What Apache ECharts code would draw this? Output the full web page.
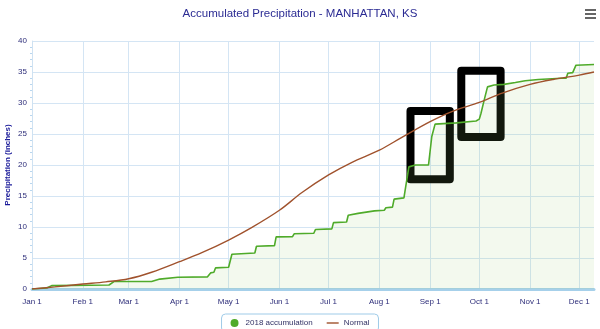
<!DOCTYPE html>
<html>
<head>
<meta charset="utf-8">
<script src="https://cdn.jsdelivr.net/npm/echarts@6/dist/echarts.min.js"></script>
<style>
html,body{margin:0;padding:0;background:#fff;}
#chart{width:600px;height:329px;}
</style>
</head>
<body>
<div id="chart"></div>
<script>
// ---- Data ----
const monthNames = ['Jan','Feb','Mar','Apr','May','Jun','Jul','Aug','Sep','Oct','Nov','Dec'];
const yTicks = [0, 5, 10, 15, 20, 25, 30, 35, 40];

const accumDates = ['01-01','01-10','01-13','02-17','02-20','03-15','03-20','03-31','04-18','04-20','04-22','04-23','05-01','05-03','05-17','05-18','05-29','05-30','06-09','06-10','06-22','06-23','07-03','07-04','07-12','07-13','07-19','07-29','08-04','08-05','08-09','08-10','08-16','08-19','08-23','08-31','09-02','09-04','09-17','09-29','10-01','10-02','10-04','10-06','10-10','10-16','10-23','10-29','11-06','11-20','11-23','11-24','11-27','11-29','12-10'];
const accumValues = [0,0.15,0.55,0.65,1.2,1.2,1.6,1.9,1.95,2.6,2.7,3.4,3.5,5.6,5.8,6.9,7.0,8.4,8.45,8.9,9.0,9.6,9.7,10.7,10.8,11.9,12.2,12.6,12.7,13.1,13.2,14.5,14.7,19.7,20.0,20.0,24.6,26.6,26.8,27.1,27.4,28.3,30.5,32.6,32.9,33.0,33.3,33.6,33.8,34.0,34.0,34.8,34.9,36.1,36.2];

const normalDates = ['01-01','01-15','02-01','02-15','03-01','03-15','04-01','04-15','05-01','05-15','06-01','06-15','07-01','07-15','08-01','08-15','09-01','09-15','10-01','10-15','11-01','11-15','12-01','12-10'];
const normalValues = [0,0.35,0.8,1.15,1.65,2.7,4.4,5.9,7.9,9.9,12.7,15.6,18.4,20.4,22.4,24.5,27.0,28.7,30.1,31.6,33.0,33.8,34.5,35.0];

// highlighted boxes (data coordinates)
const boxStarts = ['08-20','09-20'];
const boxEnds = ['09-13','10-14'];
const boxTops = [28.7, 35.2];
const boxBottoms = [17.7, 24.5];

// ---- Build daily categories Jan 1 .. Dec 10 ----
const categories = [];
for (let t = Date.UTC(2018,0,1); t <= Date.UTC(2018,11,10); t += 86400000) {
  const d = new Date(t);
  const mm = String(d.getUTCMonth()+1).padStart(2,'0');
  const dd = String(d.getUTCDate()).padStart(2,'0');
  categories.push(mm + '-' + dd);
}
const isMonthStart = (idx, val) => categories[idx].slice(3) === '01';

const accumData = accumDates.map((d,i) => [d, accumValues[i]]);
const normalData = normalDates.map((d,i) => [d, normalValues[i]]);
const boxData = boxStarts.map((s,i) => [{xAxis: s, yAxis: boxTops[i]}, {xAxis: boxEnds[i], yAxis: boxBottoms[i]}]);

const FONT = 'Liberation Sans';
const chart = echarts.init(document.getElementById('chart'), null, {renderer:'canvas'});
chart.setOption({
  animation: false,
  textStyle: {fontFamily: FONT},
  title: {
    text: 'Accumulated Precipitation - MANHATTAN, KS',
    left: 'center', top: 3,
    textStyle: {fontFamily: FONT, fontSize: 11.5, fontWeight: 'normal', color: '#2b2b93'}
  },
  grid: {left: 32, right: 6, top: 41, bottom: 40, containLabel: false, outerBoundsMode: 'none'},
  legend: {
    left: 'center', top: 314,
    padding: [5, 9, 5, 9],
    borderColor: '#9fcbe8', borderWidth: 1, borderRadius: 4,
    itemWidth: 12, itemHeight: 8, itemGap: 14,
    textStyle: {fontFamily: FONT, fontSize: 8, color: '#333366'},
    data: [
      {name: '2018 accumulation', icon: 'circle'},
      {name: 'Normal', icon: 'path://M0,0 L0,0 M0,3.3 H12 V4.7 H0 Z M12,8 L12,8'}
    ]
  },
  xAxis: {
    type: 'category',
    data: categories,
    boundaryGap: false,
    axisLine: {show: true, lineStyle: {color: '#a6d0ea', width: 3}},
    axisTick: {show: false},
    axisLabel: {
      interval: isMonthStart,
      margin: 9,
      fontSize: 8, fontFamily: FONT, color: '#2e2e7a',
      formatter: v => monthNames[parseInt(v.slice(0,2),10)-1] + ' 1'
    },
    splitLine: {show: true, interval: isMonthStart, lineStyle: {color: '#d4e5f4', width: 1}}
  },
  yAxis: {
    type: 'value', min: 0, max: 40, interval: 5,
    name: 'Precipitation (inches)',
    nameLocation: 'middle', nameGap: 20, nameRotate: 90, nameMoveOverlap: false,
    nameTextStyle: {fontFamily: FONT, fontSize: 8, fontWeight: 'bold', color: '#1a1a99'},
    axisLine: {show: true, lineStyle: {color: '#cfe2f2', width: 1}},
    axisTick: {show: false},
    minorTick: {show: true, splitNumber: 5, length: 2, lineStyle: {color: '#b9d6ee'}},
    axisLabel: {
      margin: 5, fontSize: 8, fontFamily: FONT, color: '#2e2e7a',
      formatter: v => yTicks.indexOf(v) >= 0 ? String(v) : ''
    },
    splitLine: {show: true, lineStyle: {color: '#d4e5f4', width: 1}}
  },
  graphic: [
    {type: 'rect', right: 4, top: 9, shape: {width: 11, height: 2}, style: {fill: '#666'}},
    {type: 'rect', right: 4, top: 13, shape: {width: 11, height: 2}, style: {fill: '#666'}},
    {type: 'rect', right: 4, top: 17, shape: {width: 11, height: 2}, style: {fill: '#666'}}
  ],
  series: [
    {
      name: '2018 accumulation',
      type: 'line',
      data: accumData,
      showSymbol: false, symbol: 'circle',
      itemStyle: {color: '#4fab2a'},
      lineStyle: {color: '#4fab2a', width: 1.6},
      areaStyle: {color: 'rgba(150,205,110,0.17)'},
      z: 2
    },
    {
      name: 'Normal',
      type: 'line',
      data: normalData,
      smooth: 0.35,
      symbol: 'none',
      itemStyle: {color: '#a0522d'},
      lineStyle: {color: '#a0522d', width: 1.4},
      z: 3,
      markArea: {
        silent: true,
        itemStyle: {color: 'rgba(0,0,0,0)', borderColor: '#000', borderWidth: 8, borderJoin: 'round'},
        label: {show: false},
        data: boxData
      }
    }
  ]
});
</script>
</body>
</html>
